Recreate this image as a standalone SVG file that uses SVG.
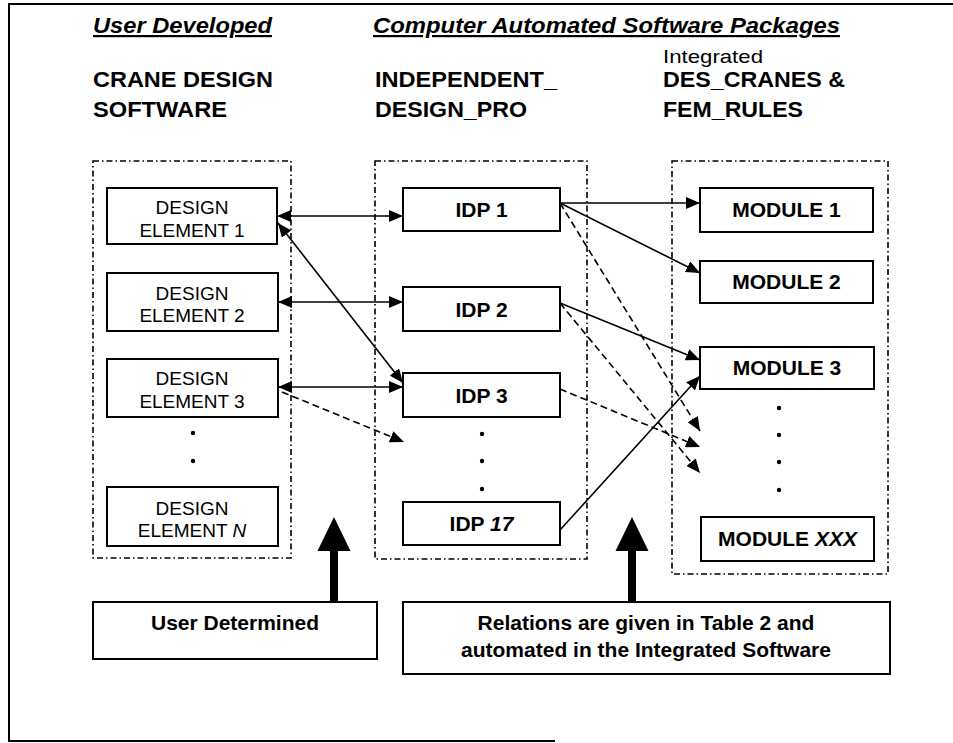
<svg xmlns="http://www.w3.org/2000/svg" width="953" height="743" viewBox="0 0 953 743">
  <defs>
    <style>
      .frame{fill:none;stroke:#000;stroke-width:2}
      .grp{fill:none;stroke:#000;stroke-width:1.6;stroke-dasharray:6 3 1.5 3}
      .box{fill:#fff;stroke:#000;stroke-width:2}
      .hd{font-family:"Liberation Sans",Arial,sans-serif;font-size:22px;font-weight:bold;fill:#000}
      .ttl{font-style:italic;text-decoration:underline}
      .sub{font-family:"Liberation Sans",Arial,sans-serif;font-size:19px;fill:#000}
      .lbl{font-family:"Liberation Sans",Arial,sans-serif;font-size:19px;fill:#000;text-anchor:middle}
      .blbl{font-family:"Liberation Sans",Arial,sans-serif;font-size:21px;font-weight:bold;fill:#000;text-anchor:middle}
      .it{font-style:italic}
      .link{fill:none;stroke:#000;stroke-width:1.6}
      .dash{stroke-dasharray:7 4}
      .dot{fill:#000}
      .big{fill:#000;stroke:none}
    </style>
    <marker id="head" viewBox="0 0 14 12" refX="14" refY="6" markerWidth="14" markerHeight="12" markerUnits="userSpaceOnUse" orient="auto-start-reverse">
      <path d="M0,0 L14,6 L0,12 z" fill="#000"/>
    </marker>
  </defs>

  <rect width="953" height="743" fill="#fff"/>
  <!-- outer frame -->
  <path class="frame" d="M953,4 H9 V741 H555"/>

  <!-- column headings -->
  <g id="headings">
    <text class="hd ttl" x="93" y="33" textLength="179" lengthAdjust="spacingAndGlyphs">User Developed</text>
    <text class="hd ttl" x="373" y="33" textLength="467" lengthAdjust="spacingAndGlyphs">Computer Automated Software Packages</text>
    <text class="hd" x="93" y="87" textLength="180" lengthAdjust="spacingAndGlyphs">CRANE DESIGN</text>
    <text class="hd" x="93" y="117" textLength="134" lengthAdjust="spacingAndGlyphs">SOFTWARE</text>
    <text class="hd" x="375" y="87" textLength="182" lengthAdjust="spacingAndGlyphs">INDEPENDENT_</text>
    <text class="hd" x="375" y="117" textLength="152" lengthAdjust="spacingAndGlyphs">DESIGN_PRO</text>
    <text class="sub" x="663" y="63" textLength="100" lengthAdjust="spacingAndGlyphs">Integrated</text>
    <text class="hd" x="663" y="87" textLength="182" lengthAdjust="spacingAndGlyphs">DES_CRANES &amp;</text>
    <text class="hd" x="663" y="117" textLength="140" lengthAdjust="spacingAndGlyphs">FEM_RULES</text>
  </g>

  <!-- package frames -->
  <g id="frames">
    <rect id="frame-user" class="grp" x="93" y="161" width="198" height="397"/>
    <rect id="frame-idp" class="grp" x="375" y="161" width="212" height="398"/>
    <rect id="frame-modules" class="grp" x="672" y="161" width="216" height="413"/>
  </g>

  <!-- design elements -->
  <g id="de1">
    <rect class="box" x="107" y="188" width="170" height="56"/>
    <text class="lbl" x="192" y="214">DESIGN</text>
    <text class="lbl" x="192" y="237">ELEMENT 1</text>
  </g>
  <g id="de2">
    <rect class="box" x="107" y="273" width="171" height="58"/>
    <text class="lbl" x="192" y="300">DESIGN</text>
    <text class="lbl" x="192" y="322">ELEMENT 2</text>
  </g>
  <g id="de3">
    <rect class="box" x="107" y="359" width="171" height="58"/>
    <text class="lbl" x="192" y="385">DESIGN</text>
    <text class="lbl" x="192" y="408">ELEMENT 3</text>
  </g>
  <g id="de-dots">
    <circle class="dot" cx="193" cy="433" r="2.2"/>
    <circle class="dot" cx="193" cy="461" r="2.2"/>
  </g>
  <g id="den">
    <rect class="box" x="107" y="487" width="171" height="59"/>
    <text class="lbl" x="192" y="515">DESIGN</text>
    <text class="lbl" x="192" y="537">ELEMENT <tspan class="it">N</tspan></text>
  </g>

  <!-- IDP packages -->
  <g id="idp1">
    <rect class="box" x="403" y="188" width="157" height="43"/>
    <text class="blbl" x="481.5" y="217">IDP 1</text>
  </g>
  <g id="idp2">
    <rect class="box" x="403" y="287" width="157" height="44"/>
    <text class="blbl" x="481.5" y="317">IDP 2</text>
  </g>
  <g id="idp3">
    <rect class="box" x="403" y="373" width="157" height="44"/>
    <text class="blbl" x="481.5" y="403">IDP 3</text>
  </g>
  <g id="idp-dots">
    <circle class="dot" cx="482" cy="434" r="2.2"/>
    <circle class="dot" cx="482" cy="461" r="2.2"/>
    <circle class="dot" cx="482" cy="489" r="2.2"/>
  </g>
  <g id="idp17">
    <rect class="box" x="403" y="502" width="157" height="43"/>
    <text class="blbl" x="481.5" y="531">IDP <tspan class="it">17</tspan></text>
  </g>

  <!-- modules -->
  <g id="module1">
    <rect class="box" x="700" y="188" width="173" height="44"/>
    <text class="blbl" x="786.5" y="217">MODULE 1</text>
  </g>
  <g id="module2">
    <rect class="box" x="700" y="261" width="173" height="42"/>
    <text class="blbl" x="786.5" y="289">MODULE 2</text>
  </g>
  <g id="module3">
    <rect class="box" x="700" y="347" width="174" height="42"/>
    <text class="blbl" x="787" y="375">MODULE 3</text>
  </g>
  <g id="module-dots">
    <circle class="dot" cx="779" cy="408" r="2.2"/>
    <circle class="dot" cx="779" cy="435" r="2.2"/>
    <circle class="dot" cx="779" cy="462" r="2.2"/>
    <circle class="dot" cx="779" cy="490" r="2.2"/>
  </g>
  <g id="modulexxx">
    <rect class="box" x="701" y="517" width="173" height="44"/>
    <text class="blbl" x="787.5" y="546">MODULE <tspan class="it">XXX</tspan></text>
  </g>

  <!-- notes -->
  <g id="note-user">
    <rect class="box" x="93" y="602" width="284" height="57"/>
    <text class="blbl" x="235" y="630">User Determined</text>
  </g>
  <g id="note-relations">
    <rect class="box" x="403" y="602" width="487" height="72"/>
    <text class="blbl" x="646" y="630">Relations are given in Table 2 and</text>
    <text class="blbl" x="646" y="657">automated in the Integrated Software</text>
  </g>

  <!-- connectors -->
  <g id="connectors">
    <line class="link" x1="277" y1="216" x2="403" y2="216" marker-start="url(#head)" marker-end="url(#head)"/>
    <line class="link" x1="278" y1="302" x2="403" y2="302" marker-start="url(#head)" marker-end="url(#head)"/>
    <line class="link" x1="278" y1="387" x2="403" y2="387" marker-start="url(#head)" marker-end="url(#head)"/>
    <line class="link" x1="278" y1="223" x2="403" y2="383" marker-start="url(#head)" marker-end="url(#head)"/>
    <line class="link dash" x1="282" y1="392" x2="404" y2="442" marker-end="url(#head)"/>

    <line class="link" x1="560" y1="203" x2="700" y2="203" marker-end="url(#head)"/>
    <line class="link" x1="560" y1="203" x2="700" y2="273" marker-end="url(#head)"/>
    <line class="link dash" x1="560" y1="203" x2="700" y2="431" marker-end="url(#head)"/>
    <line class="link" x1="560" y1="303" x2="700" y2="360" marker-end="url(#head)"/>
    <line class="link dash" x1="560" y1="303" x2="700" y2="473" marker-end="url(#head)"/>
    <line class="link dash" x1="560" y1="389" x2="700" y2="447" marker-end="url(#head)"/>
    <line class="link" x1="560" y1="530" x2="700" y2="376" marker-end="url(#head)"/>

    <path class="big" d="M330,602 V551 H317.5 L334,517 L350.5,551 H338 V602 Z"/>
    <path class="big" d="M628,603 V551 H615.5 L632,517 L648.5,551 H636 V603 Z"/>
  </g>
</svg>
